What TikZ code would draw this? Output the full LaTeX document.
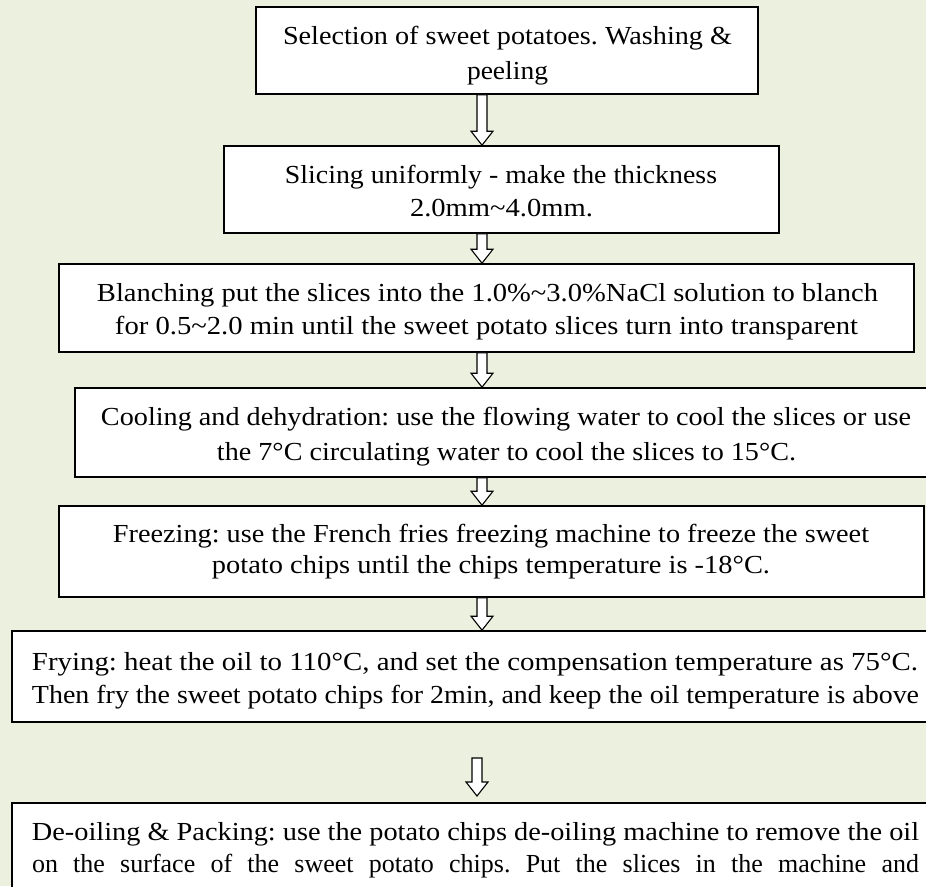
\documentclass[tikz,border=0pt]{standalone}
\usepackage{fontspec}
\setmainfont{Liberation Serif}
\usetikzlibrary{calc}
\definecolor{bgc}{HTML}{EBF1DE}
\frenchspacing
\newcommand\fitw[2]{\resizebox{#1pt}{\height}{#2}}
\newcommand\blockarrow[3]{%
  \draw[barrow] let \p1=(#1), \p2=(#2), \p3=(#3) in
    (\x1-5pt,\y2) -- (\x1-5pt,\y3+14pt) -- (\x1-11pt,\y3+14pt) -- (\x1,\y3)
    -- (\x1+11pt,\y3+14pt) -- (\x1+5pt,\y3+14pt) -- (\x1+5pt,\y2) -- cycle;}
\begin{document}
\frenchspacing
\begin{tikzpicture}[x=1pt,y=-1pt,
  box/.style={draw=black,fill=white,line width=1.6pt,rectangle,inner sep=0pt},
  ln/.style={anchor=base,inner sep=0pt,font=\fontsize{26}{30}\selectfont\frenchspacing},
  barrow/.style={draw=black,fill=white,line width=1.1pt,line join=miter}]
\useasboundingbox (0,0) rectangle (926,886);
\clip (0,0) rectangle (926,886);
\fill[bgc] (0,0) rectangle (926,886);
% boxes
\node[box,minimum width=502,minimum height=87] (b1) at (507,50.5) {};
\node[box,minimum width=555,minimum height=87] (b2) at (501.5,189.5) {};
\node[box,minimum width=855,minimum height=88] (b3) at (486.5,308) {};
\node[box,minimum width=862,minimum height=89] (b4) at (506,432.5) {};
\node[box,minimum width=865,minimum height=91] (b5) at (491.5,551.5) {};
\node[box,minimum width=926,minimum height=91] (b6) at (475,676.5) {};
\node[box,minimum width=926,minimum height=97] (b7) at (475,851.5) {};
% texts
\node[ln] (t1a) at (507.5,44) {\fitw{449}{Selection of sweet potatoes. Washing \&}};
\node[ln] (t1b) at (507.5,79) {\fitw{81}{peeling}};
\node[ln] (t2a) at (501,183) {\fitw{432}{Slicing uniformly - make the thickness}};
\node[ln] (t2b) at (501.5,216) {\fitw{183}{2.0mm\textasciitilde 4.0mm.}};
\node[ln] (t3a) at (487.5,301) {\fitw{781}{Blanching put the slices into the 1.0\%\textasciitilde 3.0\%NaCl solution to blanch}};
\node[ln] (t3b) at (486.5,334) {\fitw{743}{for 0.5\textasciitilde 2.0 min until the sweet potato slices turn into transparent}};
\node[ln] (t4a) at (506,425) {\fitw{810}{Cooling and dehydration: use the flowing water to cool the slices or use}};
\node[ln] (t4b) at (506.5,460) {\fitw{579}{the 7°C circulating water to cool the slices to 15°C.}};
\node[ln] (t5a) at (491,542) {\fitw{756}{Freezing: use the French fries freezing machine to freeze the sweet}};
\node[ln] (t5b) at (491,573) {\fitw{558}{potato chips until the chips temperature is -18°C.}};
\node[ln] (t6a) at (475,670) {\fitw{886}{Frying: heat the oil to 110°C, and set the compensation temperature as 75°C.}};
\node[ln] (t6b) at (475.5,703) {\fitw{887}{Then fry the sweet potato chips for 2min, and keep the oil temperature is above}};
\node[ln] (t7a) at (475.5,840) {\fitw{887}{De-oiling \& Packing: use the potato chips de-oiling machine to remove the oil}};
\node[ln] (t7b) at (475.5,872) {\makebox[887pt][s]{on the surface of the sweet potato chips. Put the slices in the machine and}};
% arrows
\coordinate (ax) at (482,0);
\coordinate (a6s) at (477,758);
\coordinate (a6e) at (477,796);
\blockarrow{ax}{b1.south}{b2.north}
\blockarrow{ax}{b2.south}{b3.north}
\blockarrow{ax}{b3.south}{b4.north}
\blockarrow{ax}{b4.south}{b5.north}
\blockarrow{ax}{b5.south}{b6.north}
\blockarrow{a6s}{a6s}{a6e}
\end{tikzpicture}
\end{document}
